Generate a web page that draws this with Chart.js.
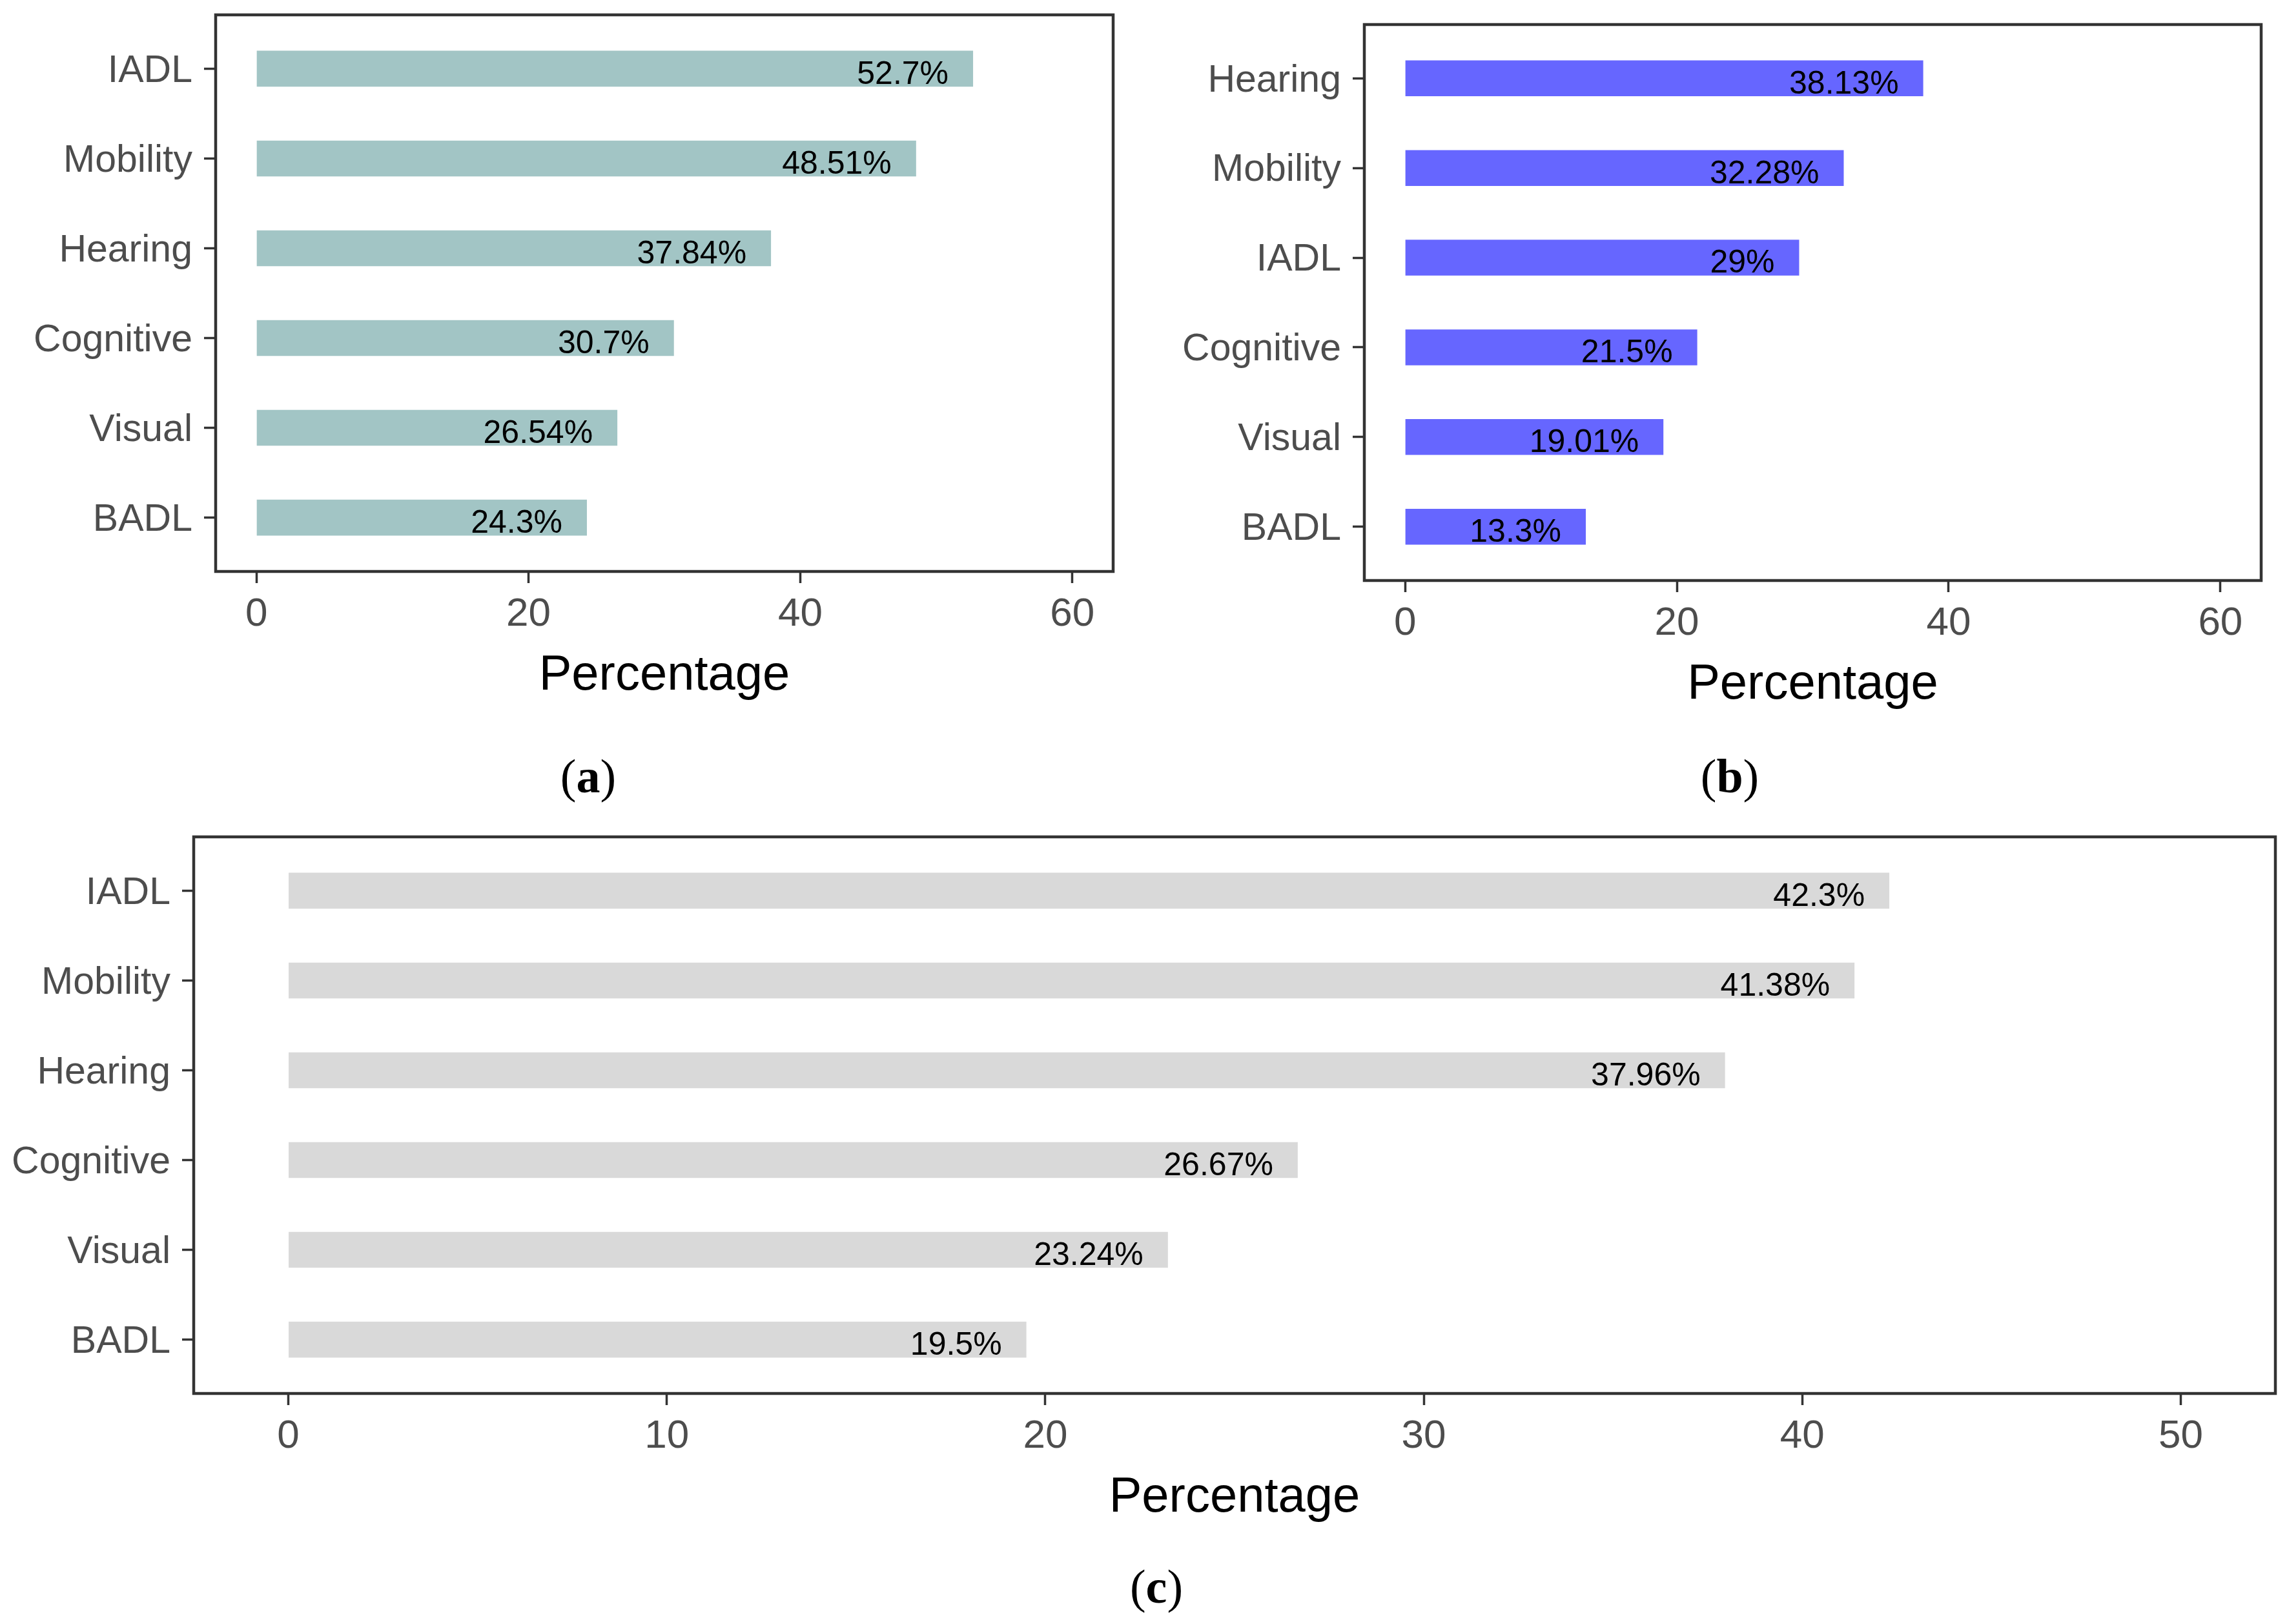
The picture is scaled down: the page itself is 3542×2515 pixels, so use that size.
<!DOCTYPE html>
<html>
<head>
<meta charset="utf-8">
<script src="https://cdn.jsdelivr.net/npm/chart.js@4.4.1/dist/chart.umd.min.js"></script>
<style>
html, body { margin: 0; padding: 0; background: #fff; }
body { width: 3542px; height: 2515px; position: relative; overflow: hidden; }
canvas { position: absolute; }
.cap { position: absolute; font-family: "Liberation Serif", "Times New Roman", serif; font-size: 74px; line-height: 74px; color: #000; transform: translate(-50%, -50%); white-space: nowrap; }
</style>
</head>
<body>
<canvas id="chartA" width="1702" height="1080" style="left:34px;top:13px"></canvas>
<canvas id="chartB" width="1701" height="1079" style="left:1813px;top:28px"></canvas>
<canvas id="chartC" width="3536" height="1080" style="left:0px;top:1286px"></canvas>
<div class="cap" style="left:911px;top:1202px">(<b>a</b>)</div>
<div class="cap" style="left:2679px;top:1202px">(<b>b</b>)</div>
<div class="cap" style="left:1791px;top:2457px">(<b>c</b>)</div>
<script>
// panel (a)
var groupsA = ['IADL', 'Mobility', 'Hearing', 'Cognitive', 'Visual', 'BADL'];
var valuesA = [52.7, 48.51, 37.84, 30.7, 26.54, 24.3];
// panel (b)
var groupsB = ['Hearing', 'Mobility', 'IADL', 'Cognitive', 'Visual', 'BADL'];
var valuesB = [38.13, 32.28, 29, 21.5, 19.01, 13.3];
// panel (c)
var groupsC = ['IADL', 'Mobility', 'Hearing', 'Cognitive', 'Visual', 'BADL'];
var valuesC = [42.3, 41.38, 37.96, 26.67, 23.24, 19.5];

var ticksAB = [0, 20, 40, 60];
var ticksC = [0, 10, 20, 30, 40, 50];

Chart.defaults.font.family = '"Liberation Sans", Arial, sans-serif';
Chart.defaults.color = '#4d4d4d';

// box round the plot area, like the ggplot panel border
var panelBorder = {
    id: 'panelBorder',
    afterDraw: function(chart) {
        var a = chart.chartArea;
        var ctx = chart.ctx;
        ctx.save();
        ctx.strokeStyle = '#333333';
        ctx.lineWidth = 4.5;
        ctx.strokeRect(a.left, a.top, a.right - a.left, a.bottom - a.top);
        ctx.restore();
    }
};

// value labels, right aligned just inside the bar end
var barLabels = {
    id: 'barLabels',
    afterDatasetsDraw: function(chart) {
        var ctx = chart.ctx;
        var meta = chart.getDatasetMeta(0);
        var data = chart.data.datasets[0].data;
        ctx.save();
        ctx.font = '50px "Liberation Sans", Arial, sans-serif';
        ctx.fillStyle = '#000';
        ctx.textAlign = 'right';
        ctx.textBaseline = 'alphabetic';
        meta.data.forEach(function(bar, i) {
            ctx.fillText(data[i].x + '%', bar.x - 38, bar.y + bar.height * 0.42);
        });
        ctx.restore();
    }
};

function makeChart(id, groups, values, color, tickValues) {
    var span = tickValues[tickValues.length - 1] - tickValues[0];
    var tickGrid = {drawOnChartArea: false, drawTicks: true, offset: false, tickLength: 18, tickWidth: 3.5, tickColor: '#333333'};
    return new Chart(document.getElementById(id), {
        type: 'bar',
        data: {
            datasets: [{
                data: values.map(function(v, i) { return {x: v, y: i}; }),
                backgroundColor: color,
                barPercentage: 0.4,
                categoryPercentage: 1
            }]
        },
        options: {
            indexAxis: 'y',
            responsive: false,
            animation: false,
            devicePixelRatio: 1,
            layout: {padding: {top: 10, right: 12, left: 0, bottom: 0}},
            plugins: {legend: {display: false}, tooltip: {enabled: false}},
            scales: {
                x: {
                    type: 'linear',
                    min: tickValues[0] - 0.05 * span,
                    max: tickValues[tickValues.length - 1] + 0.05 * span,
                    afterBuildTicks: function(s) { s.ticks = tickValues.map(function(v) { return {value: v}; }); },
                    afterFit: function(s) { s.height = 208; },
                    grid: tickGrid,
                    border: {display: false},
                    ticks: {color: '#4d4d4d', font: {size: 62}, padding: 12, maxRotation: 0, autoSkip: false},
                    title: {display: true, text: 'Percentage', color: '#000', font: {size: 76}, padding: 0}
                },
                y: {
                    type: 'linear',
                    reverse: true,
                    offset: false,
                    min: -0.6,
                    max: groups.length - 0.4,
                    afterBuildTicks: function(s) { s.ticks = groups.map(function(g, i) { return {value: i}; }); },
                    afterFit: function(s) { s.width = 300; s.paddingTop = 0; s.paddingBottom = 0; },
                    grid: tickGrid,
                    border: {display: false},
                    ticks: {
                        color: '#4d4d4d', font: {size: 59}, padding: 18, autoSkip: false, labelOffset: 4,
                        callback: function(v) { return groups[v]; }
                    }
                }
            }
        },
        plugins: [panelBorder, barLabels]
    });
}

var chartA = makeChart('chartA', groupsA, valuesA, '#a2c5c5', ticksAB);
var chartB = makeChart('chartB', groupsB, valuesB, '#6666ff', ticksAB);
var chartC = makeChart('chartC', groupsC, valuesC, '#d9d9d9', ticksC);
</script>
</body>
</html>
